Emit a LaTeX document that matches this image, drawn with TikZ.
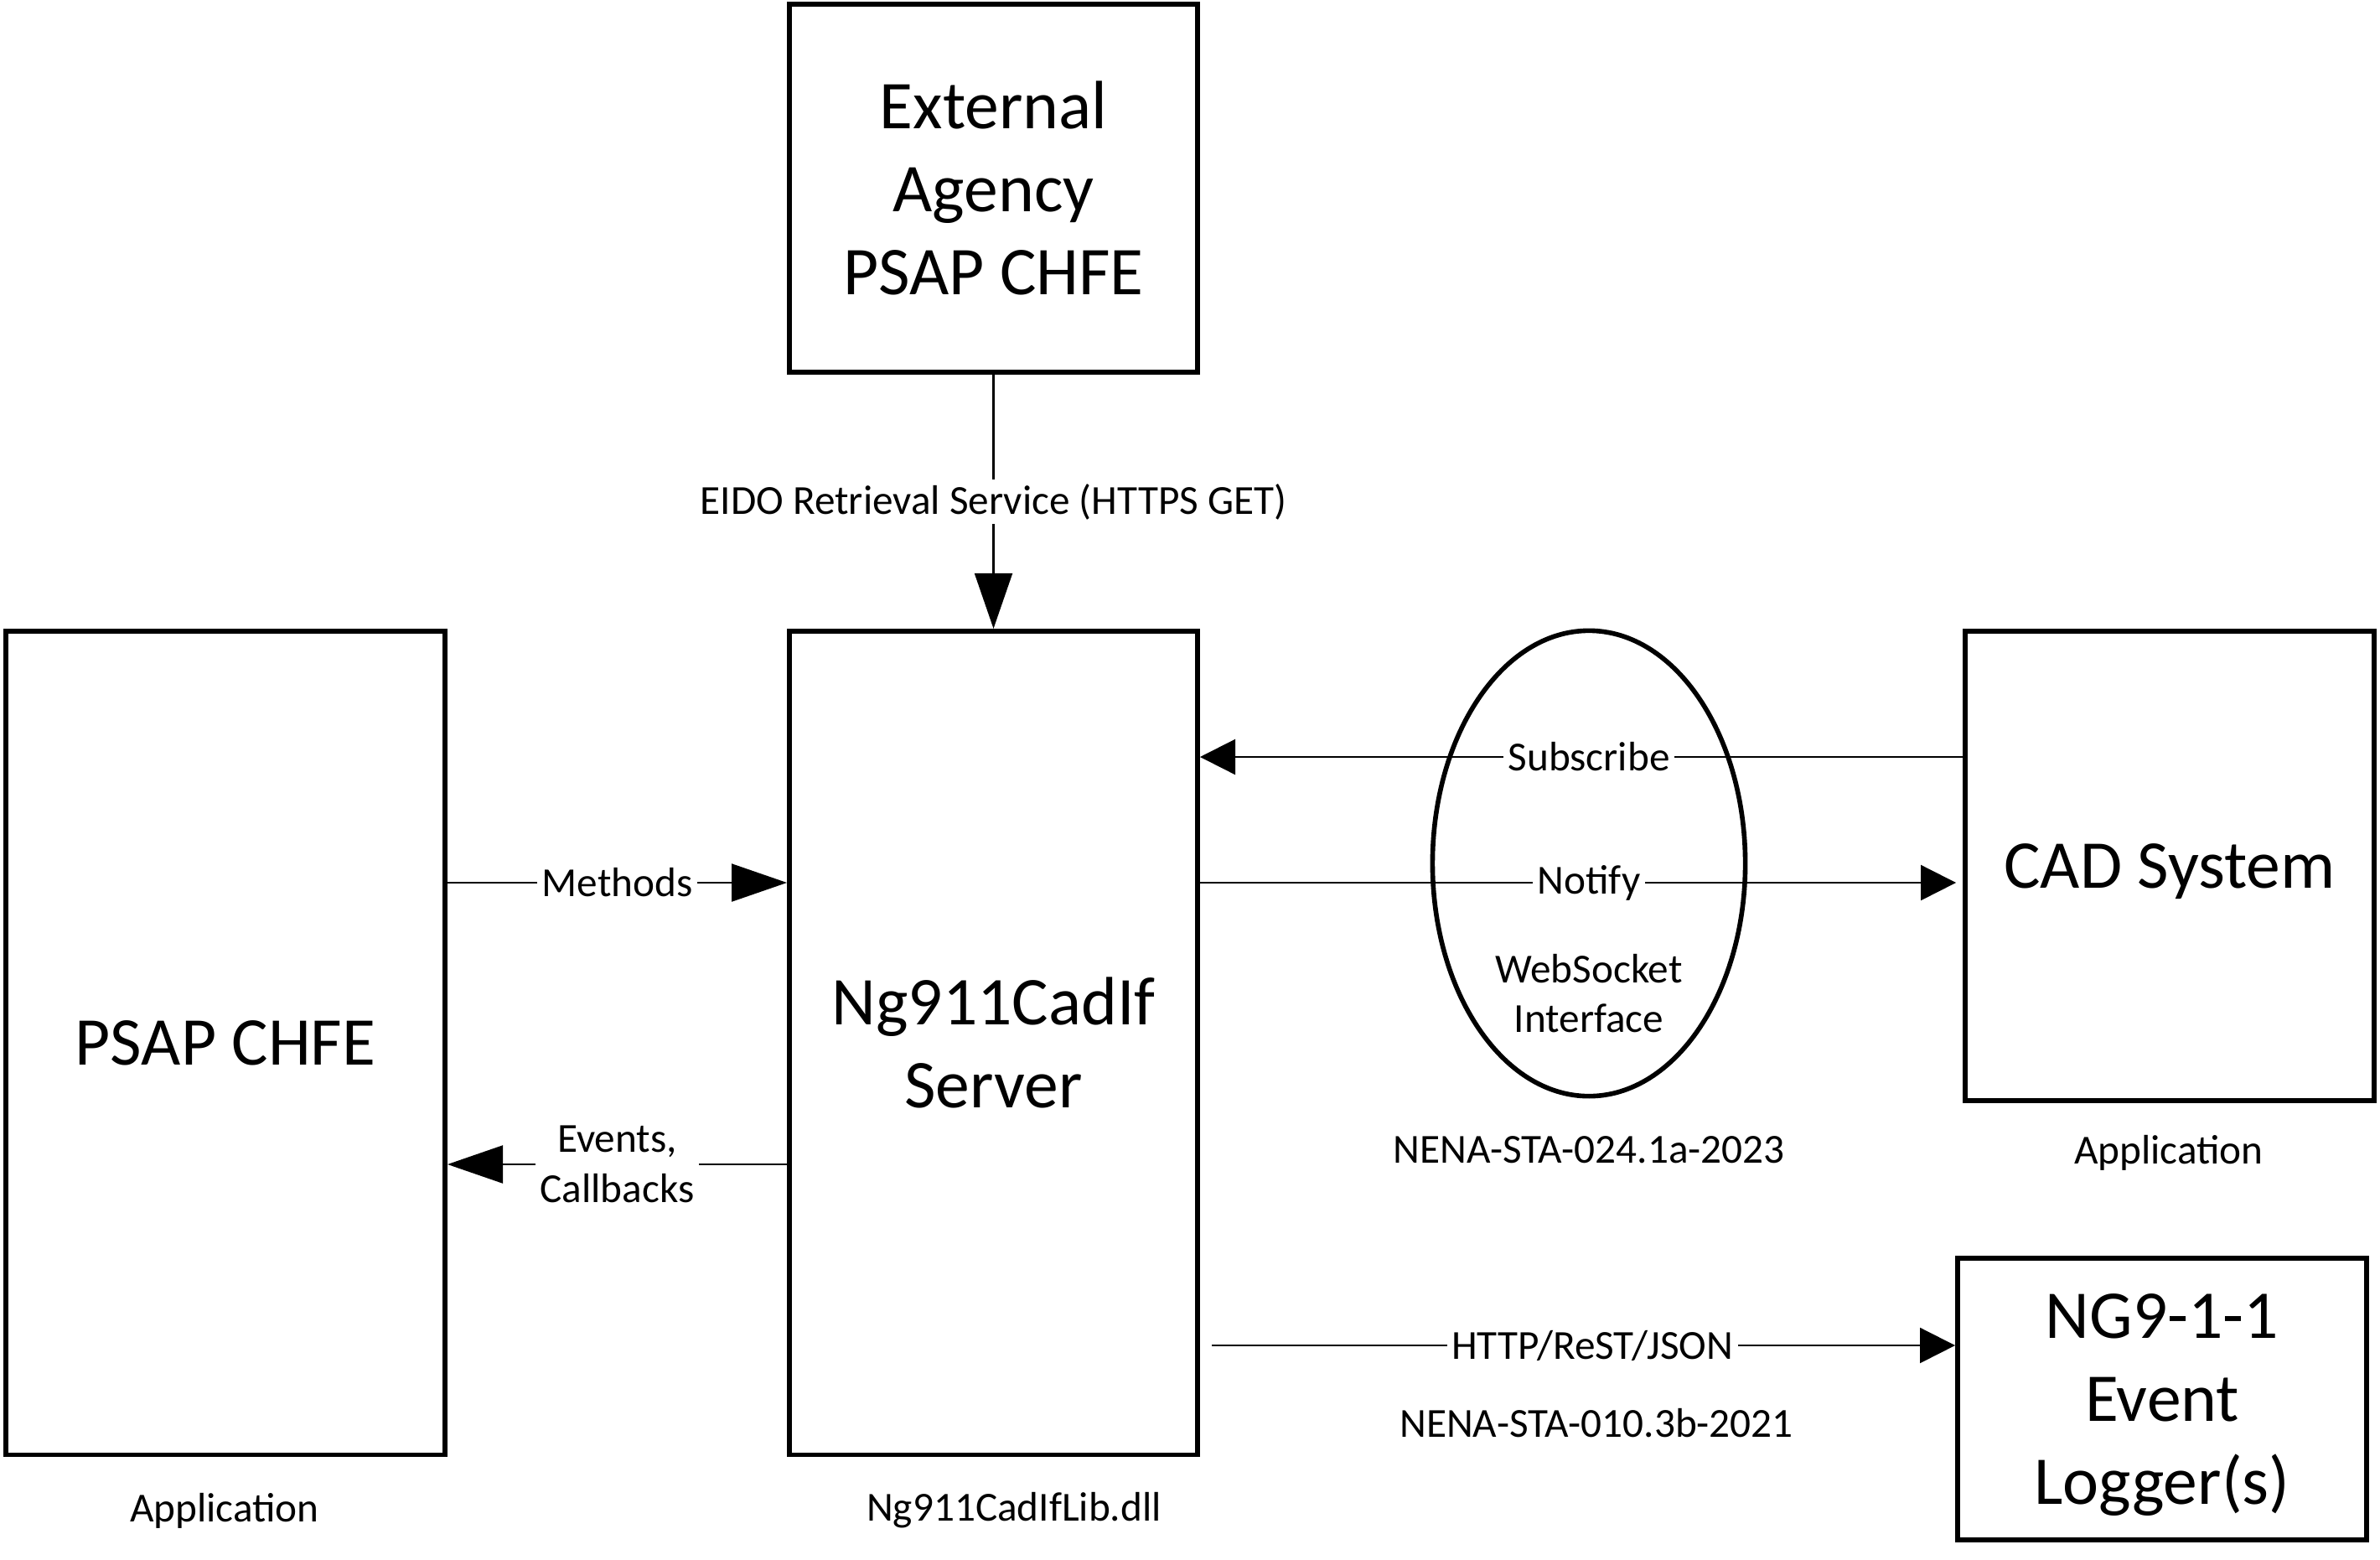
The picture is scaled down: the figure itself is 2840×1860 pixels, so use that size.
\documentclass[tikz,border=0pt]{standalone}
\usepackage{fontspec}
\setmainfont{Carlito}
\usetikzlibrary{arrows.meta,shapes.geometric}
\newcommand\mybigfont{\fontsize{23.2}{28.2}\selectfont}
\newcommand\mysmallfont{\fontsize{14}{17}\selectfont}
\tikzset{
 box/.style={draw, line width=1.6pt, inner sep=0pt, align=center, font=\mybigfont},
 conn/.style={line width=0.6pt},
 bigarrow/.style={-{Triangle[length=0.66cm,width=0.45cm]}},
 smallarrow/.style={-{Triangle[length=0.42cm,width=0.42cm]}},
 lbl/.style={fill=white, inner sep=1.5pt, font=\mysmallfont, align=center},
 note/.style={font=\mysmallfont, align=center, inner sep=0pt},
}
\begin{document}
\begin{tikzpicture}[x=0.01cm,y=-0.01cm]
\useasboundingbox (0,0) rectangle (2840,1860);
\node[box, minimum width=4.87cm, minimum height=4.39cm] (ext) at (1185.5,224.5) {External\\Agency\\PSAP CHFE};
\node[box, minimum width=5.24cm, minimum height=9.82cm] (psap) at (269,1244) {PSAP CHFE};
\node[box, minimum width=4.87cm, minimum height=9.82cm] (srv) at (1185.5,1244) {Ng911CadIf\\Server};
\node[box, minimum width=4.88cm, minimum height=5.60cm, text depth=0pt] (cad) at (2589,1033) {CAD System};
\node[box, minimum width=4.88cm, minimum height=3.36cm, text depth=0pt] (log) at (2580,1669) {NG9-1-1\\Event\\Logger(s)};
\node[draw, ellipse, line width=1.6pt, minimum width=3.73cm, minimum height=5.55cm, inner sep=0pt] (ws) at (1896,1030) {};
\node[note] (wstext) at (1896,1185) {WebSocket\\Interface};

\coordinate (ySub) at (0,903);
\coordinate (yNot) at (0,1053);
\coordinate (yEv) at (0,1389);
\coordinate (httpstart) at (1446,1605);

\draw[conn,bigarrow] (ext) -- node[lbl] {EIDO Retrieval Service (HTTPS GET)} (srv);
\draw[conn,bigarrow] (psap.east |- yNot) -- node[lbl] {Methods} (srv.west |- yNot);
\draw[conn,bigarrow] (srv.west |- yEv) -- node[lbl] {Events,\\Callbacks} (psap.east |- yEv);
\draw[conn,smallarrow] (cad.west |- ySub) -- node[lbl, pos=0.49] {Subscribe} (srv.east |- ySub);
\draw[conn,smallarrow, shorten >=0.08cm] (srv.east |- yNot) -- node[lbl, pos=0.51] {Notify} (cad.west |- yNot);
\draw[conn,smallarrow] (httpstart) -- node[lbl, pos=0.512] {HTTP/ReST/JSON} (log.west |- httpstart);

\node[note] (app1) at (268,1802) {Application};
\node[note] (dll) at (1210,1802) {Ng911CadIfLib.dll};
\node[note] (nena24) at (1896,1372) {NENA-STA-024.1a-2023};
\node[note] (app2) at (2588,1375) {Application};
\node[note] (nena10) at (1905,1698) {NENA-STA-010.3b-2021};
\end{tikzpicture}
\end{document}
